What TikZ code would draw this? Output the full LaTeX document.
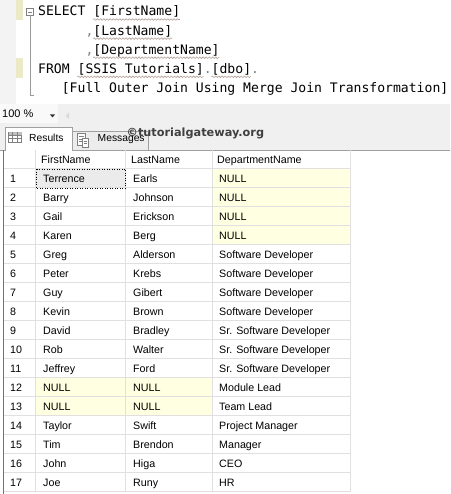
\documentclass[tikz,border=0pt]{standalone}
\usepackage{fontspec}
\setsansfont{Liberation Sans}
\setmonofont{DejaVu Sans Mono}
\newfontfamily\markfont{DejaVu Sans}
\usetikzlibrary{decorations.pathmorphing}
\definecolor{nullyellow}{RGB}{255,255,226}
\definecolor{barback}{RGB}{240,240,240}
\definecolor{marginback}{RGB}{243,243,243}
\definecolor{gridgray}{RGB}{224,224,224}
\definecolor{changebar}{RGB}{236,233,198}
\definecolor{squiggle}{RGB}{178,160,150}
\definecolor{tabline}{RGB}{160,160,160}
\def\cw{7.886}
\tikzset{
    codeline/.style={anchor=base west,inner sep=0pt,font=\ttfamily\fontsize{13.1}{15}\selectfont},
    celltext/.style={anchor=base west,inner sep=0pt,font=\sffamily\fontsize{10.7}{12}\selectfont},
    tabtext/.style={anchor=base west,inner sep=0pt,font=\sffamily\fontsize{10.3}{12}\selectfont},
    wavy/.style={draw=squiggle,line width=0.6pt,decorate,decoration={snake,amplitude=0.8pt,segment length=3.2pt}},
    gridline/.style={draw=gridgray,line width=0.8pt},
  }
\begin{document}
\begin{tikzpicture}[x=1pt,y=-1pt]
				  %page as large as the screenshot
				  \useasboundingbox (0,0) rectangle (450,494);
				  \fill[white] (0,0) rectangle (450,494);
				  %editor margin and changed lines
				  \fill[marginback] (0,0) rectangle (16,104);
				  \fill[changebar] (16,0) rectangle (23,20);
				  \fill[changebar] (16,58) rectangle (23,78);
				  \draw[gray,line width=0.6pt,fill=white] (26.5,8.5) rectangle (33.5,15.5);
				  \draw[gray,line width=0.6pt] (28,12) -- (32,12);
				  \draw[gray!80,line width=0.6pt] (30,15.5) -- (30,95) -- (33.5,95);
				  %query text
				  \node[codeline] (sel) at (38,16) {SELECT [FirstName]};
				  \node[codeline] (lname) at ({38+6*\cw},35.1) {{\color{gray},}[LastName]};
				  \node[codeline] (dname) at ({38+6*\cw},54.2) {{\color{gray},}[DepartmentName]};
				  \node[codeline] (from) at (38,73.3) {FROM [SSIS Tutorials]{\color{gray}.}[dbo]{\color{gray}.}};
				  \node[codeline] (tbl) at ({38+3*\cw},92.4) {[Full Outer Join Using Merge Join Transformation]};
				  \foreach \a/\b/\y in {7/18/19.5, 7/17/38.6, 7/23/57.7, 5/21/76.8, 22/27/76.8}
				    \draw[wavy] ({38+\a*\cw},\y) -- ({38+\b*\cw},\y);
				  %zoom bar
				  \fill[barback] (0,104) rectangle (450,150);
				  \fill[white!60!barback] (0,104) rectangle (58,123);
				  \node[tabtext,font=\sffamily\fontsize{11}{12}\selectfont] (zoom) at (2,118) {100 \%};
				  \fill[black!80] (50,114.5) -- (55,114.5) -- (52.5,117.5) -- cycle;
				  \fill[gray!30] (69,112.5) -- (69,119) -- (65.5,115.75) -- cycle;
				  %tabs
				  \draw[tabline,line width=0.8pt] (0,150) -- (450,150);
				  \draw[tabline,line width=0.6pt,fill=barback!70!gray!40] (72,150) -- (72,131) -- (148,131) -- (148,150);
				  \draw[tabline,line width=0.6pt,fill=white] (5,151) -- (5,127) -- (72,127) -- (72,151);
				  \draw[gray,line width=0.5pt,fill=white] (8.5,132.5) rectangle (21.5,142);
				  \fill[gray!50] (8.5,132.5) rectangle (21.5,135);
				  \foreach \x in {12.5,17} \draw[gray,line width=0.4pt] (\x,132.5) -- (\x,142);
				  \foreach \y in {135,138.5} \draw[gray,line width=0.4pt] (8.5,\y) -- (21.5,\y);
				  \node[tabtext] (res) at (29,141.5) {Results};
				  \draw[gray,line width=0.5pt,fill=white] (77.5,133.5) rectangle (85,145);
				  \foreach \y in {136.5,139,141.5} \draw[gray,line width=0.4pt] (79,\y) -- (83.5,\y);
				  \draw[gray,line width=0.5pt,fill=white] (82,138.5) rectangle (88.5,147);
				  \foreach \y in {141,143.5} \draw[gray,line width=0.4pt] (83.5,\y) -- (87,\y);
				  \node[tabtext] (msg) at (97.5,142) {Messages};
				  \node[anchor=base west,inner sep=0pt,text=black!75,font=\markfont\bfseries\fontsize{11.3}{12}\selectfont] (mark) at (126.5,136.5) {\textcopyright tutorialgateway.org};
				  %null cells
				  \fill[nullyellow] (212,168.5) rectangle (350,244.5);
				  \fill[nullyellow] (35,377.5) rectangle (212,415.5);
				  \fill[black!8] (35,168.5) rectangle (125,187.5);
				  %grid
				  \foreach \k in {0,...,17}
				    \draw[gridline] (3,{168.5+19*\k}) -- (350,{168.5+19*\k});
				  \foreach \x in {35,125,212,350}
				    \draw[gridline] (\x,150.5) -- (\x,491.5);
				  \draw[black!55,line width=0.8pt] (3,150.5) -- (3,494);
				  \draw[black,line width=0.5pt,dotted] (36,169.2) rectangle (125.5,187.8);
				  %header
				  \node[celltext] (hfirst) at (41,163.5) {FirstName};
				  \node[celltext] (hlast) at (131,163.5) {LastName};
				  \node[celltext] (hdept) at (217,163.5) {DepartmentName};
				  %rows
				  \foreach \fn/\lnm/\dep [count=\i] in {Terrence/Earls/NULL, Barry/Johnson/NULL, Gail/Erickson/NULL, Karen/Berg/NULL,
				      Greg/Alderson/Software Developer, Peter/Krebs/Software Developer, Guy/Gibert/Software Developer,
				      Kevin/Brown/Software Developer, David/Bradley/Sr. Software Developer, Rob/Walter/Sr. Software Developer,
				      Jeffrey/Ford/Sr. Software Developer, NULL/NULL/Module Lead, NULL/NULL/Team Lead,
				      Taylor/Swift/Project Manager, Tim/Brendon/Manager, John/Higa/CEO, Joe/Runy/HR}{
				    \node[celltext] (num\i) at (10,{163.5+19*\i}) {\i};
				    \node[celltext] (first\i) at (43,{163.5+19*\i}) {\fn};
				    \node[celltext] (last\i) at (133,{163.5+19*\i}) {\lnm};
				    \node[celltext] (dept\i) at (219,{163.5+19*\i}) {\dep};
				  }
				  \end{tikzpicture}
\end{document}
